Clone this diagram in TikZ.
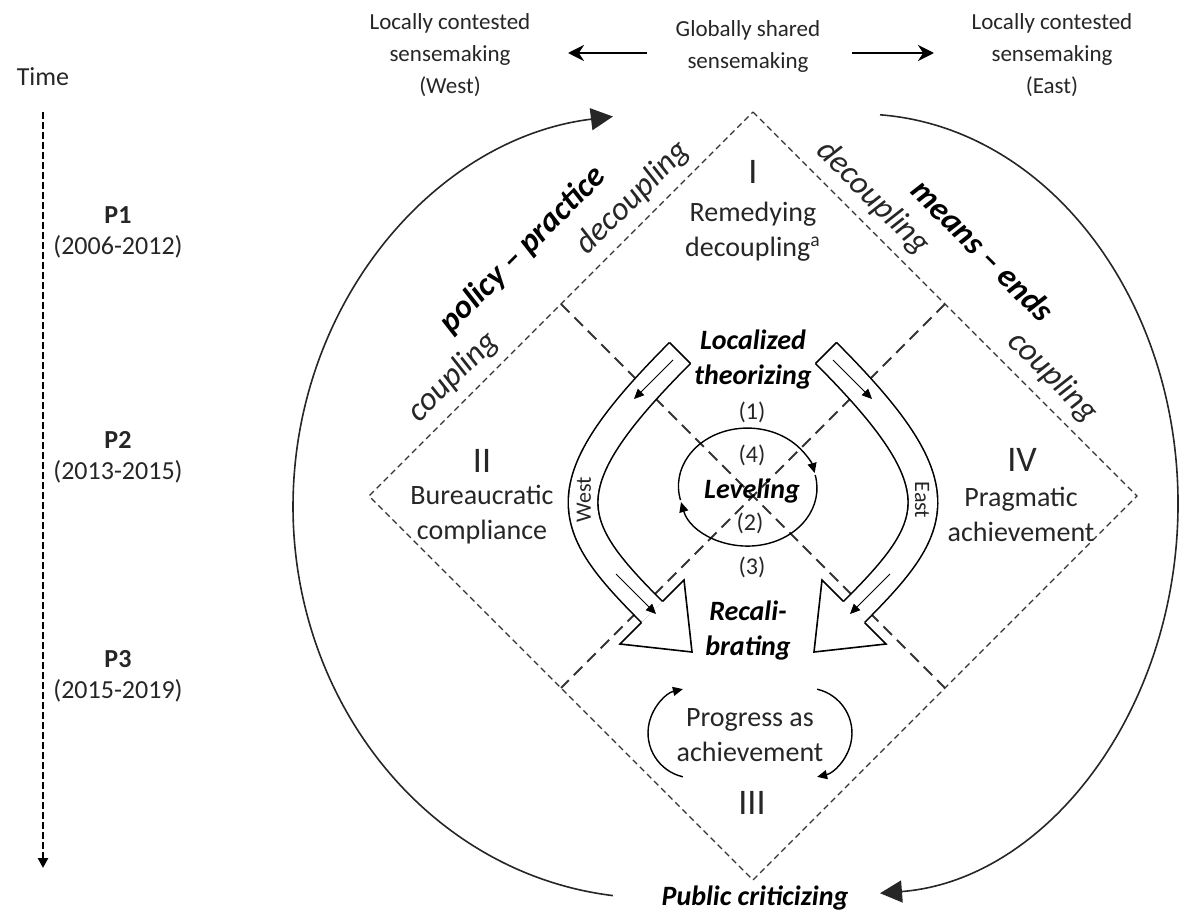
\documentclass[tikz,border=0pt]{standalone}
\usepackage{fontspec}
\setmainfont{Carlito}
\usetikzlibrary{arrows.meta,positioning}

\begin{document}
\begin{tikzpicture}[x=0.5pt,y=-0.5pt,node distance=16pt,
  rim line/.style={dash pattern=on 3pt off 2pt,line width=0.7pt,black!80},
  cross line/.style={dash pattern=on 6pt off 3.5pt,line width=1pt,black!80},
  side arc/.style={line width=0.8pt,black!85},
  big tip/.style={-{Triangle[length=11pt,width=11pt]}},
  small tip/.style={-{Triangle[length=5pt,width=4.5pt]}},
  top arrow/.style={line width=1.3pt,-{Stealth[length=8pt,width=8pt]}},
  flow band/.style={line width=0.8pt,double=white,double distance=14pt},
  head band/.style={line width=0.8pt,fill=white,line join=miter},
  top text/.style={align=center,text=black!85,font=\fontsize{11.5}{16}\selectfont},
  time text/.style={align=center,text=black!85,font=\fontsize{13}{16}\selectfont},
  quad text/.style={align=center,text=black!85,font=\fontsize{14}{17.5}\selectfont},
  quad num/.style={text=black!85,font=\fontsize{18}{20}\selectfont},
  key text/.style={align=center,font=\fontsize{14}{17.5}\selectfont\bfseries\itshape},
  edge text/.style={text=black!85,font=\fontsize{16.5}{18}\selectfont\itshape},
  axis text/.style={font=\fontsize{16.5}{18}\selectfont\bfseries\itshape},
  order num/.style={text=black!85,font=\fontsize{12}{14}\selectfont},
  band text/.style={text=black!85,font=\fontsize{11}{12}\selectfont}]
  \useasboundingbox (0,0) rectangle (1180,915);

  % time axis
  \node [time text](time) at (43,77) {Time};
  \coordinate (ttop) at (43,112);
  \coordinate (tend) at (43,868);
  \draw [line width=1.3pt,dash pattern=on 3.5pt off 1.5pt,-{Triangle[length=5pt,width=5pt]}] (ttop) -- (tend);
  \node [time text,font=\fontsize{13}{16}\selectfont\bfseries](p1) at (118,215) {P1};
  \node [time text](d1) [below of = p1] {(2006-2012)};
  \node [time text,font=\fontsize{13}{16}\selectfont\bfseries](p2) at (118,440) {P2};
  \node [time text](d2) [below of = p2] {(2013-2015)};
  \node [time text,font=\fontsize{13}{16}\selectfont\bfseries](p3) at (118,659) {P3};
  \node [time text](d3) [below of = p3] {(2015-2019)};

  % sensemaking on top
  \node [top text](west) at (450,55) {Locally contested\\sensemaking\\(West)};
  \node [top text](glob) at (748,46) {Globally shared\\sensemaking};
  \node [top text](east) at (1052,55) {Locally contested\\sensemaking\\(East)};
  \coordinate (gw) at (647,53);
  \coordinate (ww) at (568,53);
  \coordinate (ge) at (852,53);
  \coordinate (ee) at (934,53);
  \draw [top arrow] (gw) -- (ww);
  \draw [top arrow] (ge) -- (ee);

  % outer arcs
  \coordinate (lb) at (612.9,895.6);
  \coordinate (rt) at (880,114.8);
  \draw [side arc,big tip] (lb) arc [start angle=96.4, end angle=263.6, x radius=360, y radius=392];
  \draw [side arc,big tip] (rt) arc [start angle=273.6, end angle=446.4, x radius=318, y radius=390];
  \node [key text](pub) at (755,898) {Public criticizing};

  % diamond and cross lines
  \coordinate (T) at (753,112);
  \coordinate (R) at (1137,496);
  \coordinate (B) at (753,880);
  \coordinate (L) at (369,496);
  \draw [rim line] (T) -- (R) -- (B) -- (L) -- cycle;
  \coordinate (ml) at (561,304);
  \coordinate (mr) at (945,304);
  \coordinate (nl) at (561,688);
  \coordinate (nr) at (945,688);
  \draw [cross line] (ml) -- (nr);
  \draw [cross line] (mr) -- (nl);

  % edge labels
  \node [edge text,rotate=45](decl) at (633,198) {decoupling};
  \node [axis text,rotate=45](pol) at (523,250) {policy -- practice};
  \node [edge text,rotate=45](coul) at (453,377) {coupling};
  \node [edge text,rotate=-45](decr) at (873,198) {decoupling};
  \node [axis text,rotate=-45](mea) at (983,250) {means -- ends};
  \node [edge text,rotate=-45](cour) at (1053,377) {coupling};

  % West band
  \coordinate (wt) at (680,353);
  \coordinate (wb) at (652,612);
  \draw [flow band] (wt) .. controls (546,487) and (565,525) .. (wb);
  \draw [line width=0.8pt] (669.5,342.5) -- (690.5,363.5);
  \draw [head band] (662.5,601.5) -- (684,580) -- (692,652) -- (620,644) -- (641.5,622.5);
  \draw [small tip] (673,360) -- (634,399);
  \draw [small tip] (616,574) -- (656,614);
  \node [band text,rotate=90](wl) at (584,500) {West};

  % East band
  \coordinate (et) at (826,353);
  \coordinate (eb) at (854,612);
  \draw [flow band] (et) .. controls (960,487) and (941,525) .. (eb);
  \draw [line width=0.8pt] (815.5,363.5) -- (836.5,342.5);
  \draw [head band] (843.5,601.5) -- (822,580) -- (814,652) -- (886,644) -- (864.5,622.5);
  \draw [small tip] (833,360) -- (872,399);
  \draw [small tip] (890,574) -- (850,614);
  \node [band text,rotate=-90](el) at (922,500) {East};

  % leveling loop
  \coordinate (lv1) at (680.5,500.1);
  \coordinate (lv2) at (815.2,475);
  \draw [line width=0.7pt,small tip] (lv1) arc [start angle=166, end angle=347, x radius=69, y radius=58];
  \draw [line width=0.7pt,small tip] (lv2) arc [start angle=347, end angle=526, x radius=69, y radius=58];

  % centre texts
  \node [key text](loc) at (753,360) {Localized\\theorizing};
  \node [order num](o1) at (752,412) {(1)};
  \node [order num](o4) at (752,455) {(4)};
  \node [key text](lev) at (752,491) {Leveling};
  \node [order num](o2) at (750,523) {(2)};
  \node [order num](o3) at (752,567) {(3)};
  \node [key text](rec) at (748,631) {Recali-\\brating};

  % quadrants
  \node [quad num](n1) at (753,172) {I};
  \node [quad text](t1) at (753,232) {Remedying\\decoupling\textsuperscript{a}};
  \node [quad num](n2) at (482,461) {II};
  \node [quad text](t2) at (482,515) {Bureaucratic\\compliance};
  \node [quad num](n4) at (1022,460) {IV};
  \node [quad text](t4) at (1021,514) {Pragmatic\\achievement};
  \node [quad num](n3) at (752,803) {III};
  \node [quad text](t3) at (750,735) {Progress as\\achievement};
  \coordinate (pa1) at (682.9,776.8);
  \coordinate (pa2) at (817.1,689.2);
  \draw [line width=0.7pt,small tip] (pa1) arc [start angle=103, end angle=257, radius=45];
  \draw [line width=0.7pt,small tip] (pa2) arc [start angle=283, end angle=437, radius=45];
\end{tikzpicture}
\end{document}
